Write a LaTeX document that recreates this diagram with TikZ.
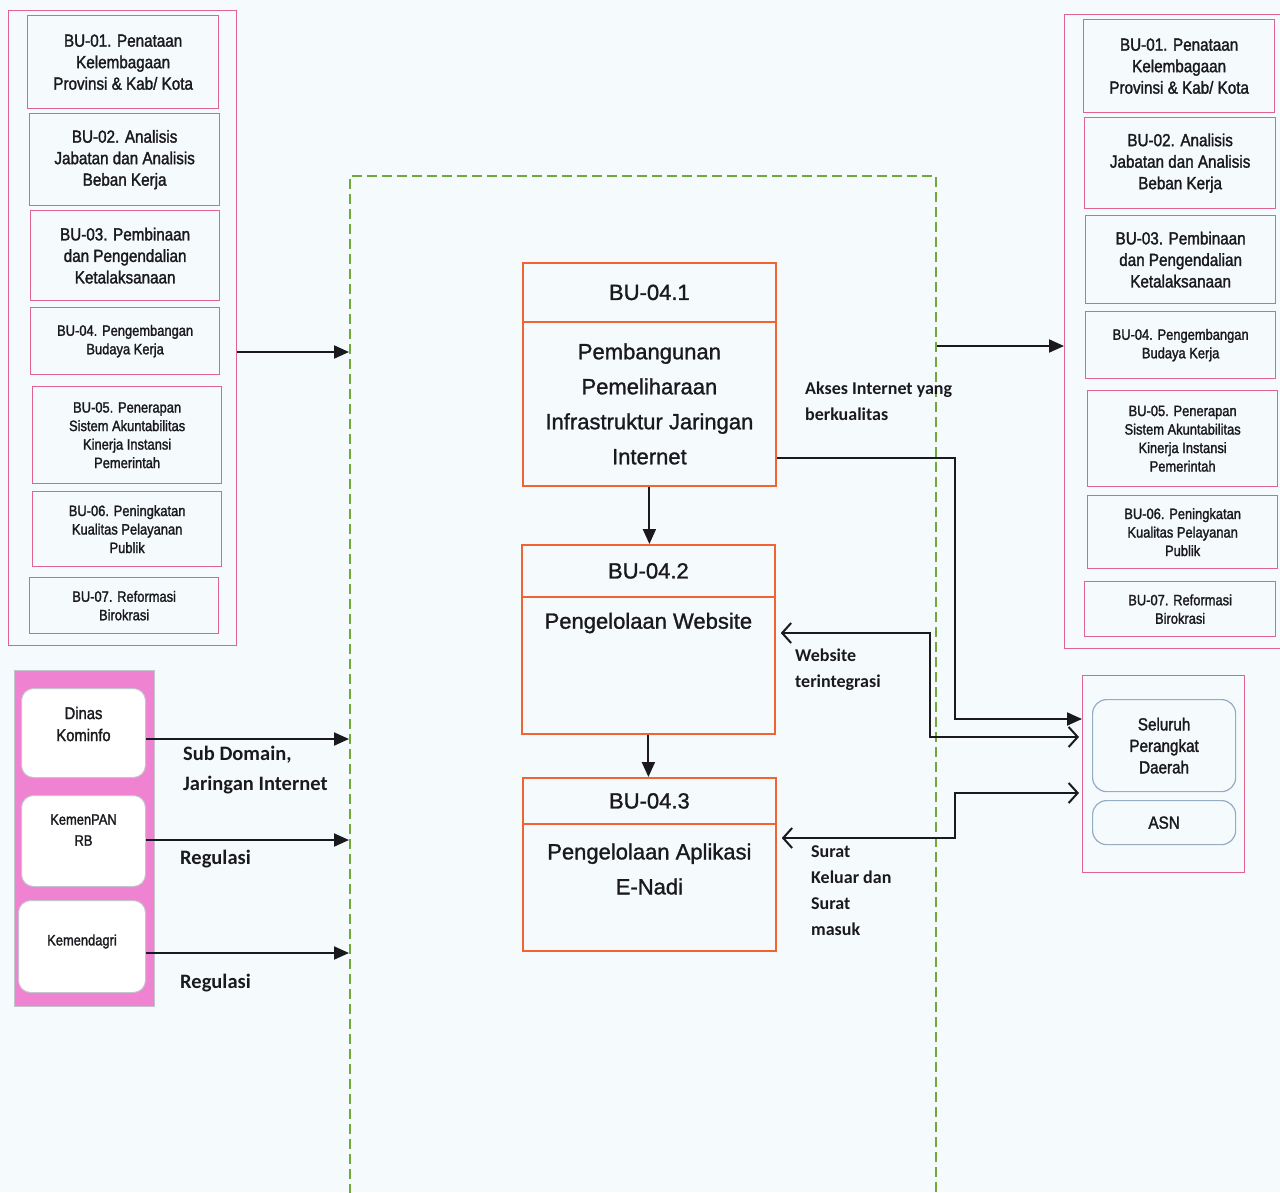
\documentclass[tikz,border=0pt]{standalone}
\usepackage{fontspec}
\setmainfont{Liberation Sans}
\newfontfamily\widesans{Liberation Sans}[FakeBold=1.2]
\newfontfamily\narrowsans{Liberation Sans}[FakeStretch=0.87,FakeBold=1.6]
\newfontfamily\tightsans{Liberation Sans}[FakeStretch=0.86,FakeBold=1.6]
\newfontfamily\labelsans{Carlito}
\usetikzlibrary{arrows.meta}

\definecolor{bgc}{RGB}{245,250,253}
\definecolor{pinkline}{RGB}{226,100,140}
\definecolor{orangeline}{RGB}{240,100,52}
\definecolor{greendash}{RGB}{112,168,58}
\definecolor{pinkfill}{RGB}{240,130,210}
\definecolor{greyblue}{RGB}{150,172,196}
\definecolor{softgrey}{RGB}{196,196,204}
\definecolor{ink}{RGB}{25,25,30}

\tikzset{
  column/.style={draw=pinkline, line width=1.3pt, anchor=north west, inner sep=0pt},
  bubox/.style={draw=pinkline, line width=1.3pt, anchor=north west, inner sep=0pt,
    align=center, text=ink, font=\narrowsans\fontsize{17.5}{21.5}\selectfont},
  bubsmall/.style={bubox, font=\tightsans\fontsize{15}{18.5}\selectfont},
  hdr/.style={draw=orangeline, line width=1.8pt, anchor=north west, inner sep=0pt,
    align=center, text=ink, font=\widesans\fontsize{22}{26}\selectfont},
  body/.style={hdr, font=\widesans\fontsize{22}{35}\selectfont},
  procarea/.style={draw=greendash, line width=1.5pt, dash pattern=on 10pt off 5pt,
    anchor=north west, inner sep=0pt},
  srcbox/.style={draw=softgrey, fill=white, line width=1pt, rounded corners=12pt,
    anchor=north west, inner sep=0pt},
  srctext/.style={align=center, text=ink, inner sep=0pt},
  roundbox/.style={draw=greyblue, line width=1.2pt, rounded corners=14pt,
    anchor=north west, inner sep=0pt, align=center, text=ink,
    font=\narrowsans\fontsize{17.5}{21.5}\selectfont},
  lbl/.style={align=left, text=ink, inner sep=0pt, anchor=west},
  lbll/.style={lbl, font=\labelsans\bfseries\fontsize{20.5}{30}\selectfont},
  lblr/.style={lbl, font=\labelsans\bfseries\fontsize{18}{26}\selectfont},
  fwd/.style={draw=ink, line width=2pt, -{Triangle[length=15pt,width=13pt]}},
  twoway/.style={draw=ink, line width=2pt,
    {Straight Barb[length=9pt,width=20pt,line width=2pt]}-{Straight Barb[length=9pt,width=20pt,line width=2pt]}}
}

\begin{document}
\begin{tikzpicture}[x=1pt,y=-1pt]
\useasboundingbox (0,0) rectangle (1280,1192);
\clip (0,0) rectangle (1280,1192);
\fill[bgc] (0,0) rectangle (1280,1192);

% ---- left column of programme boxes ----
\node[column, minimum width=228pt, minimum height=635pt] (lcol) at (8,10) {};
\node[bubox, minimum width=191pt, minimum height=93pt] (l1) at (27,15)
  {BU-01. Penataan\\Kelembagaan\\Provinsi \& Kab/ Kota};
\node[bubox, minimum width=190pt, minimum height=92pt] (l2) at (29,113)
  {BU-02. Analisis\\Jabatan dan Analisis\\Beban Kerja};
\node[bubox, minimum width=189pt, minimum height=90pt] (l3) at (30,210)
  {BU-03. Pembinaan\\dan Pengendalian\\Ketalaksanaan};
\node[bubsmall, minimum width=189pt, minimum height=67pt] (l4) at (30,307)
  {BU-04. Pengembangan\\Budaya Kerja};
\node[bubsmall, minimum width=189pt, minimum height=97pt] (l5) at (32,386)
  {BU-05. Penerapan\\Sistem Akuntabilitas\\Kinerja Instansi\\Pemerintah};
\node[bubsmall, minimum width=189pt, minimum height=75pt] (l6) at (32,491)
  {BU-06. Peningkatan\\Kualitas Pelayanan\\Publik};
\node[bubsmall, minimum width=189pt, minimum height=56pt] (l7) at (29,577)
  {BU-07. Reformasi\\Birokrasi};

% ---- right column of programme boxes ----
\node[column, minimum width=240pt, minimum height=634pt] (rcol) at (1064,14) {};
\node[bubox, minimum width=191pt, minimum height=93pt] (r1) at (1083,19)
  {BU-01. Penataan\\Kelembagaan\\Provinsi \& Kab/ Kota};
\node[bubox, minimum width=191pt, minimum height=91pt] (r2) at (1084,117)
  {BU-02. Analisis\\Jabatan dan Analisis\\Beban Kerja};
\node[bubox, minimum width=190pt, minimum height=88pt] (r3) at (1085,215)
  {BU-03. Pembinaan\\dan Pengendalian\\Ketalaksanaan};
\node[bubsmall, minimum width=190pt, minimum height=67pt] (r4) at (1085,311)
  {BU-04. Pengembangan\\Budaya Kerja};
\node[bubsmall, minimum width=190pt, minimum height=96pt] (r5) at (1087,390)
  {BU-05. Penerapan\\Sistem Akuntabilitas\\Kinerja Instansi\\Pemerintah};
\node[bubsmall, minimum width=190pt, minimum height=73pt] (r6) at (1087,495)
  {BU-06. Peningkatan\\Kualitas Pelayanan\\Publik};
\node[bubsmall, minimum width=191pt, minimum height=55pt] (r7) at (1084,581)
  {BU-07. Reformasi\\Birokrasi};

% ---- process area ----
\node[procarea, minimum width=586pt, minimum height=1060pt] (proc) at (349,175) {};

\node[hdr, minimum width=253pt, minimum height=59pt] (h41) at (522,262) {BU-04.1};
\node[body, minimum width=253pt, minimum height=164pt] (b41) at (522,321)
  {Pembangunan\\Pemeliharaan\\Infrastruktur Jaringan\\Internet};
\node[hdr, minimum width=253pt, minimum height=52pt] (h42) at (521,544) {BU-04.2};
\node[hdr, minimum width=253pt, minimum height=137pt] (b42) at (521,596) {};
\node[srctext, font=\widesans\fontsize{22}{35}\selectfont] (t42) at ([yshift=-27pt]b42.north)
  {Pengelolaan Website};
\node[hdr, minimum width=253pt, minimum height=46pt] (h43) at (522,777) {BU-04.3};
\node[hdr, minimum width=253pt, minimum height=127pt] (b43) at (522,823) {};
\node[srctext, font=\widesans\fontsize{22}{35}\selectfont] (t43) at ([yshift=-46pt]b43.north)
  {Pengelolaan Aplikasi\\E-Nadi};

\draw[fwd] (b41.south) -- (b41.south |- h42.north);
\draw[fwd] (b42.south) -- (b42.south |- h43.north);

% ---- external sources ----
\node[draw=softgrey, fill=pinkfill, line width=1pt, anchor=north west,
  minimum width=140pt, minimum height=336pt, inner sep=0pt] (src) at (14,670) {};
\node[srcbox, minimum width=124pt, minimum height=89pt] (dinas) at (21,688) {};
\node[srctext, font=\narrowsans\fontsize{17}{22}\selectfont] (tdinas)
  at ([yshift=9pt]dinas.center) {Dinas\\Kominfo};
\node[srcbox, minimum width=124pt, minimum height=91pt] (kpan) at (21,795) {};
\node[srctext, font=\tightsans\fontsize{15}{21}\selectfont] (tkpan)
  at ([yshift=11pt]kpan.center) {KemenPAN\\RB};
\node[srcbox, minimum width=127pt, minimum height=92pt] (kdagri) at (18,900) {};
\node[srctext, font=\tightsans\fontsize{15}{21}\selectfont] (tkdagri)
  at ([yshift=5pt]kdagri.center) {Kemendagri};

% ---- recipients ----
\node[column, minimum width=162pt, minimum height=197pt] (pub) at (1082,675) {};
\node[roundbox, minimum width=143pt, minimum height=92pt] (opd) at (1092,699)
  {Seluruh\\Perangkat\\Daerah};
\node[roundbox, minimum width=143pt, minimum height=44pt] (asn) at (1092,800) {ASN};

% ---- connectors ----
\draw[fwd] (lcol.east |- 0,352) -- (proc.west |- 0,352);
\draw[fwd] (proc.east |- 0,346) -- (rcol.west |- 0,346);
\draw[fwd] (dinas.east |- 0,739) -- (proc.west |- 0,739);
\draw[fwd] (kpan.east |- 0,840) -- (proc.west |- 0,840);
\draw[fwd] (kdagri.east |- 0,953) -- (proc.west |- 0,953);

\draw[fwd] (b41.east |- 0,458) -| (955,719) -- (pub.west |- 0,719);
\draw[twoway, shorten <=5pt, shorten >=3pt] (b42.east |- 0,633) -- (930,633) |- (pub.west |- 0,737);
\draw[twoway, shorten <=5pt, shorten >=3pt] (b43.east |- 0,838) -| (955,793) -- (pub.west |- 0,793);

% ---- flow labels ----
\node[lbll] (lsub) at (183,770) {Sub Domain,\\Jaringan Internet};
\node[lbll] (lreg1) at (180,859) {Regulasi};
\node[lbll] (lreg2) at (180,983) {Regulasi};
\node[lblr] (lakses) at (805,401) {Akses Internet yang\\berkualitas};
\node[lblr] (lweb) at (795,670) {Website\\terintegrasi};
\node[lblr] (lsurat) at (811,891) {Surat\\Keluar dan\\Surat\\masuk};
\end{tikzpicture}
\end{document}
